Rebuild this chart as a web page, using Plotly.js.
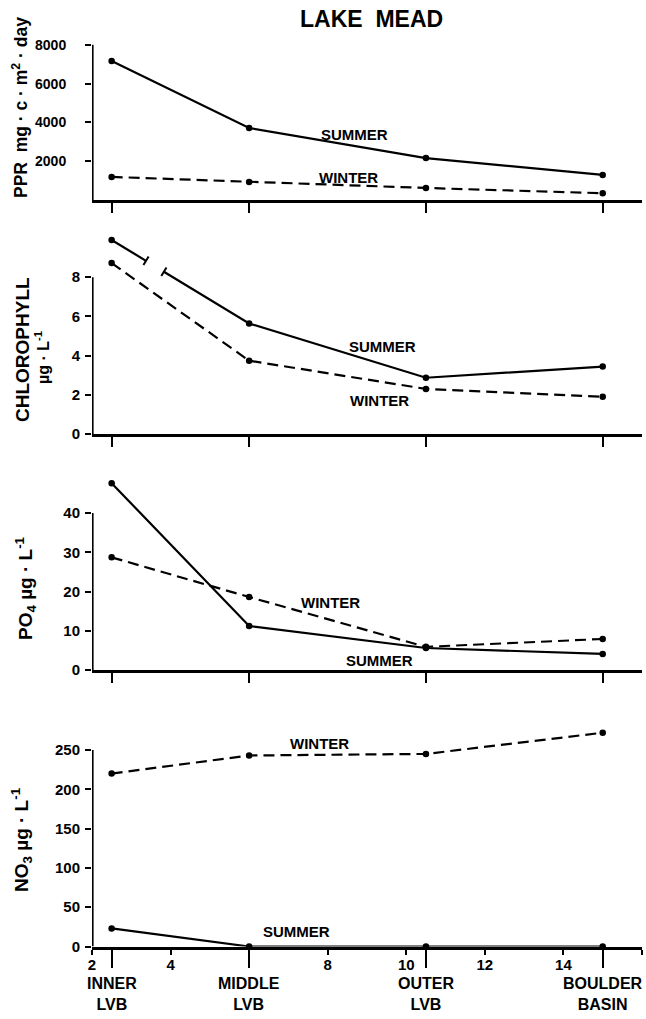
<!DOCTYPE html>
<html>
<head>
<meta charset="utf-8">
<script src="https://cdn.plot.ly/plotly-3.0.1.min.js"></script>
<style>html,body{margin:0;padding:0;background:#fff;}</style>
</head>
<body>
<div id="chart" style="width:646px;height:1019px;"></div>
<script>
// ---- data ----
const stations = [2.5, 6, 10.5, 15];
const stationNames = ['INNER<br>LVB', 'MIDDLE<br>LVB', 'OUTER<br>LVB', 'BOULDER<br>BASIN'];
const xTickVals = [2, 4, 8, 10, 12, 14, 16];
const pprSummer = [7160, 3710, 2160, 1290];
const pprWinter = [1190, 930, 620, 350];
const chlSummer = [9.9, 5.64, 2.87, 3.44];   // first point drawn on broken scale (true value 14.2)
const chlWinter = [8.72, 3.74, 2.3, 1.9];
const po4Summer = [47.6, 11.2, 5.6, 4.1];    // first point drawn on broken scale (true value 57)
const po4Winter = [28.7, 18.6, 5.9, 7.9];
const no3Summer = [23, 0, 0, 0];
const no3Winter = [220, 243, 245, 272];
const pprTicks = [2000, 4000, 6000, 8000];
const chlTicks = [0, 2, 4, 6, 8];
const po4Ticks = [0, 10, 20, 30, 40];
const no3Ticks = [0, 50, 100, 150, 200, 250];

// ---- layout constants ----
const W = 646, H = 1019, L = 92, R = 4;
const plotW = W - L - R;
const pxPerX = plotW / 14;
const FONT = 'Liberation Sans, Arial, sans-serif';
const NARROW = 'Liberation Sans Narrow, Arial Narrow, Liberation Sans, Arial, sans-serif';
const panels = [
  {zero: 200, top: 40, ppu: 0.0194},
  {zero: 434, top: 232, ppu: 19.6},
  {zero: 670, top: 478, ppu: 3.925},
  {zero: 946.5, top: 728, ppu: 0.786}
];
function dom(p) { return [(H - p.zero) / H, (H - p.top) / H]; }
function rng(p) { return [0, (p.zero - p.top) / p.ppu]; }

const solid = {color: '#000', width: 2.2};
const dashed = {color: '#000', width: 2.2, dash: '11px,6px'};
const mk = {color: '#000', size: 6.5};

function series(xa, ya, y, line) {
  return {x: stations, y: y, xaxis: xa, yaxis: ya, mode: 'lines+markers', line: line,
          marker: mk, showlegend: false, hoverinfo: 'x+y', cliponaxis: false};
}

// chlorophyll summer with broken segment
const f1 = 0.25, f2 = 0.38;
const bx1 = stations[0] + f1 * (stations[1] - stations[0]);
const by1 = chlSummer[0] + f1 * (chlSummer[1] - chlSummer[0]);
const bx2 = stations[0] + f2 * (stations[1] - stations[0]);
const by2 = chlSummer[0] + f2 * (chlSummer[1] - chlSummer[0]);

const traces = [
  series('x', 'y', pprSummer, solid),
  series('x', 'y', pprWinter, dashed),
  {x: [stations[0], bx1, null, bx2, stations[1], stations[2], stations[3]],
   y: [chlSummer[0], by1, null, by2, chlSummer[1], chlSummer[2], chlSummer[3]],
   xaxis: 'x2', yaxis: 'y2', mode: 'lines', line: solid, showlegend: false, hoverinfo: 'skip', cliponaxis: false},
  {x: stations, y: chlSummer, xaxis: 'x2', yaxis: 'y2', mode: 'markers', marker: mk, showlegend: false, cliponaxis: false},
  series('x2', 'y2', chlWinter, dashed),
  series('x3', 'y3', po4Summer, solid),
  series('x3', 'y3', po4Winter, dashed),
  series('x4', 'y4', no3Summer, solid),
  series('x4', 'y4', no3Winter, dashed),
  {x: [], y: [], xaxis: 'x5', yaxis: 'y4', mode: 'markers', showlegend: false, hoverinfo: 'skip'}
];

// break marks perpendicular to segment (pixel space)
const dxp = (bx2 - bx1) * pxPerX, dyp = (by2 - by1) * panels[1].ppu;
const len = Math.hypot(dxp, dyp);
const nx = -dyp / len * 5, ny = dxp / len * 5;
const shapes = [];
[[bx1, by1], [bx2, by2]].forEach(function (b) {
  shapes.push({type: 'line', xref: 'x2', yref: 'y2', xsizemode: 'pixel', ysizemode: 'pixel',
    xanchor: b[0], yanchor: b[1], x0: -nx, x1: nx, y0: -ny, y1: ny, line: {color: '#000', width: 2}});
});
// y-axis lines (only up to top tick)
[['y', pprTicks], ['y2', chlTicks], ['y3', po4Ticks], ['y4', no3Ticks]].forEach(function (a, i) {
  shapes.push({type: 'line', xref: i === 0 ? 'x' : 'x' + (i + 1), yref: a[0],
    x0: 2, x1: 2, y0: 0, y1: a[1][a[1].length - 1], line: {color: '#000', width: 3.2}});
});

function xax(anchor, extra) {
  return Object.assign({domain: [0, 1], range: [2, 16], anchor: anchor, showline: true, linecolor: '#000',
    linewidth: 3.2, showgrid: false, zeroline: false, ticks: 'outside', tickvals: stations, ticklen: 10,
    tickwidth: 2, tickcolor: '#000', showticklabels: false, fixedrange: true}, extra || {});
}
const tf = function (s, fam) { return {family: fam || FONT, size: s, color: '#000', weight: 700}; };
function yax(p, ticks, anchor, standoff, font) {
  return {domain: dom(p), range: rng(p), anchor: anchor, showline: false, showgrid: false, zeroline: false,
    ticks: 'outside', tickvals: ticks, ticklen: 6, tickwidth: 2, tickcolor: '#000', ticklabelstandoff: standoff,
    tickfont: font, fixedrange: true};
}

const ann = [];
function lab(text, xa, ya, x, y, size) {
  ann.push({text: text, xref: xa, yref: ya, x: x, y: y, showarrow: false, font: tf(size || 15),
    xanchor: 'center', yanchor: 'middle'});
}
lab('SUMMER', 'x', 'y', 8.68, 3400);
lab('WINTER', 'x', 'y', 8.53, 1185);
lab('SUMMER', 'x2', 'y2', 9.39, 4.44);
lab('WINTER', 'x2', 'y2', 9.32, 1.73);
lab('14.2', 'x2', 'y2', 2.6, 10.4, 14);
lab('WINTER', 'x3', 'y3', 8.07, 17.1);
lab('SUMMER', 'x3', 'y3', 9.32, 2.5);
lab('57', 'x3', 'y3', 2.42, 50.4, 14);
lab('WINTER', 'x4', 'y4', 7.79, 258);
lab('SUMMER', 'x4', 'y4', 7.2, 19);
stations.forEach(function (s, i) {
  ann.push({text: stationNames[i], xref: 'x4', yref: 'paper', x: s, y: (H - 994) / H, showarrow: false,
    font: tf(16), xanchor: 'center', yanchor: 'middle'});
});
function px2paperX(px) { return (px - L) / plotW; }
function px2paperY(py) { return (H - py) / H; }
ann.push({text: 'LAKE\u00a0\u00a0MEAD', xref: 'paper', yref: 'paper', x: px2paperX(372), y: px2paperY(19),
  showarrow: false, font: tf(23), xanchor: 'center', yanchor: 'middle'});
function ytitle(text, px, py, size) {
  ann.push({text: text, xref: 'paper', yref: 'paper', x: px2paperX(px), y: px2paperY(py), showarrow: false,
    textangle: -90, font: tf(size), xanchor: 'center', yanchor: 'middle'});
}
ytitle('PPR  mg · c · m<sup>2</sup> · day', 20, 108, 17.5);
ytitle('CHLOROPHYLL', 22, 350, 19);
ytitle('µg · L<sup>-1</sup>', 42, 358, 16);
ytitle('PO<sub>4</sub> µg · L<sup>-1</sup>', 25, 588, 19);
ytitle('NO<sub>3</sub> µg · L<sup>-1</sup>', 21, 840, 19);

const layout = {
  width: W, height: H, margin: {l: L, r: R, t: 0, b: 0, autoexpand: false},
  paper_bgcolor: '#fff', plot_bgcolor: 'rgba(0,0,0,0)', showlegend: false,
  font: {family: FONT, color: '#000'},
  xaxis: xax('y'),
  xaxis2: xax('y2'),
  xaxis3: xax('y3'),
  xaxis4: xax('y4', {tickvals: xTickVals, ticklen: 5, showticklabels: true, ticklabelstandoff: -3,
    tickfont: tf(15)}),
  xaxis5: {overlaying: 'x4', anchor: 'y4', range: [2, 16], tickvals: stations, ticks: 'outside', ticklen: 20,
    tickwidth: 2, tickcolor: '#000', showticklabels: false, showline: false, showgrid: false, zeroline: false,
    fixedrange: true},
  yaxis: yax(panels[0], pprTicks, 'x', 16, tf(14, NARROW)),
  yaxis2: yax(panels[1], chlTicks, 'x2', 2, tf(15)),
  yaxis3: yax(panels[2], po4Ticks, 'x3', 2, tf(15)),
  yaxis4: yax(panels[3], no3Ticks, 'x4', 2, tf(15)),
  shapes: shapes,
  annotations: ann
};
Plotly.newPlot('chart', traces, layout, {displayModeBar: false, staticPlot: true});
</script>
</body>
</html>
